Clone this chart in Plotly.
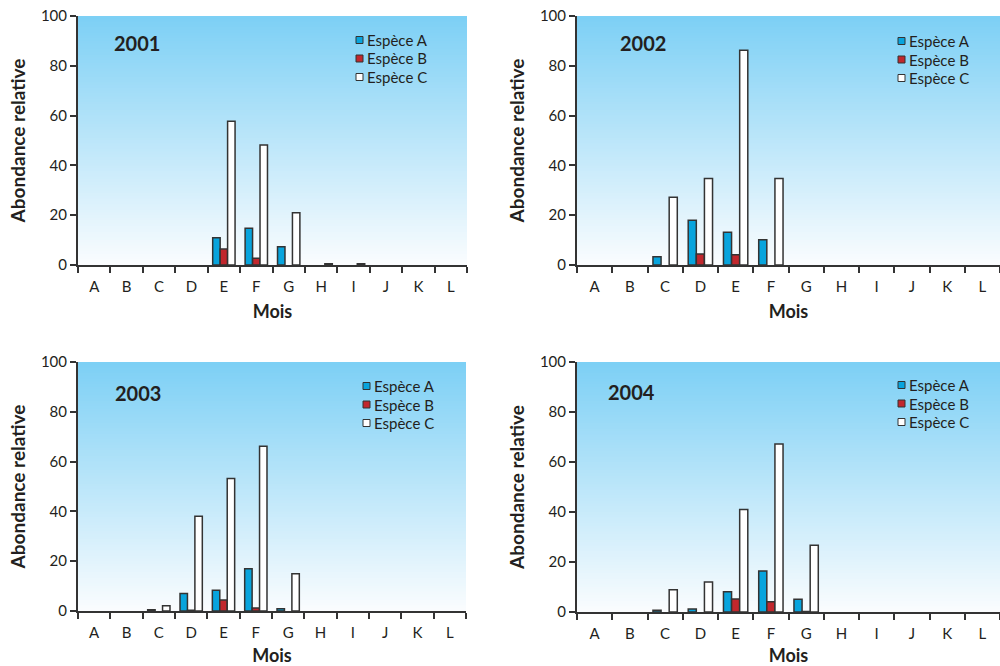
import plotly.graph_objects as go

months = ["A", "B", "C", "D", "E", "F", "G", "H", "I", "J", "K", "L"]
years = ["2001", "2002", "2003", "2004"]
species = ["Espèce A", "Espèce B", "Espèce C"]

# Abondance relative par mois
a_2001 = [0, 0, 0, 0, 10.9, 14.8, 7.3, 0, 0, 0, 0, 0]
b_2001 = [0, 0, 0, 0, 6.4, 2.7, 0, 0, 0, 0, 0, 0]
c_2001 = [0, 0, 0, 0, 57.7, 48.2, 21.0, 0.5, 0.5, 0, 0, 0]

a_2002 = [0, 0, 3.3, 18.0, 13.2, 10.1, 0, 0, 0, 0, 0, 0]
b_2002 = [0, 0, 0, 4.4, 4.1, 0, 0, 0, 0, 0, 0, 0]
c_2002 = [0, 0, 27.2, 34.7, 86.2, 34.7, 0, 0, 0, 0, 0, 0]

a_2003 = [0, 0, 0.5, 7.0, 8.3, 17.0, 0.9, 0, 0, 0, 0, 0]
b_2003 = [0, 0, 0, 0.3, 4.4, 1.2, 0, 0, 0, 0, 0, 0]
c_2003 = [0, 0, 2.1, 38.1, 53.2, 66.2, 15.0, 0, 0, 0, 0, 0]

a_2004 = [0, 0, 0.7, 1.2, 8.1, 16.4, 5.1, 0, 0, 0, 0, 0]
b_2004 = [0, 0, 0, 0, 5.2, 4.1, 0.2, 0, 0, 0, 0, 0]
c_2004 = [0, 0, 8.9, 12.0, 41.0, 67.2, 26.7, 0, 0, 0, 0, 0]

series = {
    "2001": [a_2001, b_2001, c_2001],
    "2002": [a_2002, b_2002, c_2002],
    "2003": [a_2003, b_2003, c_2003],
    "2004": [a_2004, b_2004, c_2004],
}

W, H = 1000, 666
colors = ["#08a4dd", "#c1272d", "#ffffff"]
dark = "#333333"
txt = "#231f20"
font_family = "Lato, 'Open Sans', sans-serif"

# panel pixel boxes: (x0, x1, ytop, ybottom)
boxes = [(78, 467, 16, 265), (577, 1000, 16, 265), (78, 466, 362, 611), (577, 1000, 362, 612)]
legend_pos = [(356, 40), (898, 41), (363, 386), (898, 385)]  # square left, first row centre
year_pos = [(112, 43), (618, 43), (113, 393), (606, 392)]

fig = go.Figure()
shapes = []
annotations = []
layout_extra = {}

top_rgb = (125, 208, 245)
bot_rgb = (250, 252, 254)
N = 90
sq = 7
row = 18.5

for i, yr in enumerate(years):
    k = i + 1
    xa = "x" if k == 1 else f"x{k}"
    ya = "y" if k == 1 else f"y{k}"
    for j, sp in enumerate(species):
        vals = series[yr][j]
        fig.add_trace(go.Bar(
            x=months, y=vals, name=sp, legendgroup=sp, showlegend=False,
            marker=dict(color=colors[j],
                        line=dict(color=dark, width=[1.5 if v > 0 else 0 for v in vals])),
            xaxis=xa, yaxis=ya,
        ))
    x0, x1, yt, yb = boxes[i]
    xd = [x0 / W, x1 / W]
    yd = [1 - yb / H, 1 - yt / H]
    xkey = "xaxis" if k == 1 else f"xaxis{k}"
    ykey = "yaxis" if k == 1 else f"yaxis{k}"
    layout_extra[xkey] = dict(
        domain=xd, anchor=ya, type="category", categoryorder="array", categoryarray=months,
        automargin=False,
        showline=True, linecolor=dark, linewidth=2, ticks="outside", tickson="boundaries",
        ticklen=6, tickwidth=2, tickcolor=dark, showgrid=False,
        tickfont=dict(size=15, color=txt), ticklabelstandoff=7,
        title=dict(text="<b>Mois</b>", font=dict(size=18, color=txt), standoff=11),
    )
    layout_extra[ykey] = dict(
        domain=yd, anchor=xa, range=[0, 100], tickvals=[0, 20, 40, 60, 80, 100],
        automargin=False,
        showline=True, linecolor=dark, linewidth=2, ticks="outside", ticklen=6,
        tickwidth=2, tickcolor=dark, showgrid=False, zeroline=False,
        tickfont=dict(size=15, color=txt),
        title=dict(text="<b>Abondance relative</b>", font=dict(size=19, color=txt), standoff=10),
    )
    # gradient background
    for s in range(N):
        f = s / (N - 1)
        c = tuple(round(bot_rgb[m] + (top_rgb[m] - bot_rgb[m]) * f) for m in range(3))
        shapes.append(dict(
            type="rect", xref=f"{xa} domain", yref=f"{ya} domain",
            x0=0, x1=1, y0=s / N, y1=min(1, (s + 1) / N + 0.003),
            fillcolor=f"rgb{c}", line=dict(width=0), layer="below",
        ))
    # legend
    lx, ly = legend_pos[i]
    for j, sp in enumerate(species):
        cy = ly + j * row
        shapes.append(dict(
            type="rect", xref="paper", yref="paper",
            x0=lx / W, x1=(lx + sq) / W, y0=1 - (cy + sq / 2) / H, y1=1 - (cy - sq / 2) / H,
            fillcolor=colors[j], line=dict(color=dark, width=1),
        ))
        annotations.append(dict(
            text=sp, x=(lx + sq + 2) / W, y=1 - cy / H, xref="paper", yref="paper",
            xanchor="left", yanchor="middle", showarrow=False,
            font=dict(size=15, color=txt, family=font_family),
        ))
    px, py = year_pos[i]
    annotations.append(dict(
        text=f"<b>{yr}</b>", x=px / W, y=1 - py / H, xref="paper", yref="paper",
        xanchor="left", yanchor="middle", showarrow=False,
        font=dict(size=20, color=txt, family=font_family),
    ))

fig.update_layout(
    width=W, height=H, margin=dict(l=0, r=0, t=0, b=0, autoexpand=False),
    paper_bgcolor="white", plot_bgcolor="white", showlegend=False,
    font=dict(family=font_family, color=txt),
    barmode="group", bargap=0.31, bargroupgap=0,
    shapes=shapes, annotations=annotations, **layout_extra,
)

fig.write_html("out.html", config={"displayModeBar": False},
               post_script="document.body.style.margin='0';")
